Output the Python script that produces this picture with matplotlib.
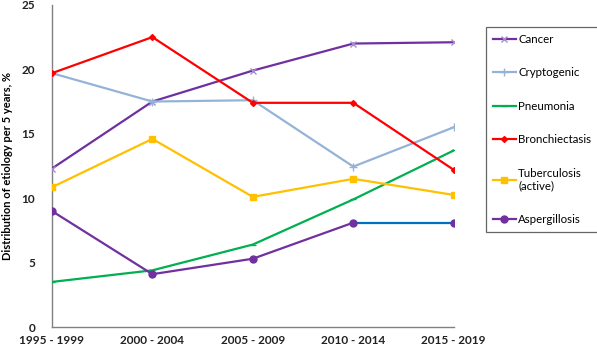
import matplotlib
matplotlib.use("Agg")
import matplotlib.pyplot as plt

periods = ["1995 - 1999", "2000 - 2004", "2005 - 2009", "2010 - 2014", "2015 - 2019"]
cancer = [12.3, 17.5, 19.9, 22.0, 22.1]
cryptogenic = [19.7, 17.5, 17.6, 12.45, 15.5]
pneumonia = [3.5, 4.4, 6.4, 9.9, 13.7]
bronchiectasis = [19.7, 22.5, 17.4, 17.4, 12.2]
tuberculosis = [10.85, 14.6, 10.1, 11.5, 10.25]
aspergillosis = [9.0, 4.1, 5.3, 8.1, 8.1]
yticks = [0, 5, 10, 15, 20, 25]

plt.rcParams['font.family'] = ['Lato', 'DejaVu Sans']

fig = plt.figure(figsize=(5.97, 3.49), dpi=100)
ax = fig.add_axes([0.087, 0.063, 0.673, 0.923])
x = list(range(len(periods)))

ax.plot(x, cancer, color="#7030A0", lw=1.6, marker="x", ms=4.5, mew=1.0,
        mec="#A58BD0", label="Cancer", zorder=3)
ax.plot(x, cryptogenic, color="#95B3D7", lw=1.6, marker="+", ms=6, mew=1.0,
        label="Cryptogenic", zorder=3)
ax.plot(x, pneumonia, color="#00B050", lw=1.6, marker="_", ms=5, mew=1.0,
        label="Pneumonia", zorder=3)
ax.plot(x, bronchiectasis, color="#FF0000", lw=1.6, marker="D", ms=3,
        label="Bronchiectasis", zorder=3)
ax.plot(x, tuberculosis, color="#FFC000", lw=1.6, marker="s", ms=5,
        label="Tuberculosis\n(active)", zorder=3)
ax.plot(x[-2:], aspergillosis[-2:], color="#0070C0", lw=1.6, zorder=3)
ax.plot(x[:-1], aspergillosis[:-1], color="#7030A0", lw=1.6, zorder=3)
ax.plot(x, aspergillosis, color="#7030A0", lw=0, marker="o", ms=5,
        zorder=4)
h_asp, = ax.plot([], [], color="#7030A0", lw=1.6, marker="o", ms=5,
                 label="Aspergillosis")

ax.set_xlim(0, 4)
ax.set_ylim(0, 25)
ax.set_xticks(x)
ax.set_xticklabels(periods)
ax.set_yticks(yticks)
for s in ["top", "right"]:
    ax.spines[s].set_visible(False)
for s in ["left", "bottom"]:
    ax.spines[s].set_color("#808080")
    ax.spines[s].set_linewidth(1.0)
ax.tick_params(axis="both", length=0, labelsize=8.5, colors="#222222")
ax.tick_params(axis="x", pad=6)
ax.tick_params(axis="y", pad=12)
for lab in ax.get_xticklabels() + ax.get_yticklabels():
    lab.set_fontweight("bold")
ax.set_ylabel("Distribution of etiology per 5 years, %", fontsize=8,
              fontweight="bold", labelpad=6)

leg = ax.legend(loc="upper left", bbox_to_anchor=(1.08, 0.932),
                frameon=True, fancybox=False, fontsize=8.3,
                labelspacing=1.95, handlelength=2.0, handletextpad=0.2,
                borderpad=0.6, borderaxespad=0)
leg.get_frame().set_edgecolor("#404040")
leg.get_frame().set_linewidth(0.9)

fig.savefig("out.png", dpi=100)
